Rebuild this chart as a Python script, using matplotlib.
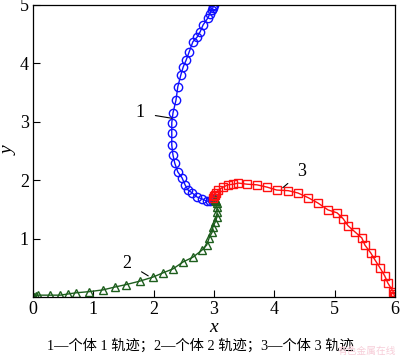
import numpy as np
import matplotlib
matplotlib.use("Agg")
import matplotlib.pyplot as plt

plt.rcParams['font.family'] = ['Liberation Serif', 'Noto Sans CJK SC']

# body 1 (blue circles)
x1 = [3.00, 2.99, 2.98, 2.96, 2.93, 2.90, 2.82, 2.77, 2.72, 2.65, 2.59, 2.54, 2.49, 2.45,
      2.40, 2.37, 2.32, 2.30, 2.30, 2.30, 2.32, 2.35, 2.40, 2.47, 2.52, 2.57, 2.64, 2.72,
      2.80, 2.88, 2.94, 2.97, 2.99, 3.00]
y1 = [5.00, 4.98, 4.95, 4.91, 4.85, 4.78, 4.66, 4.54, 4.45, 4.37, 4.20, 4.06, 3.94, 3.80,
      3.60, 3.37, 3.15, 2.98, 2.81, 2.60, 2.43, 2.29, 2.14, 2.04, 1.92, 1.83, 1.78, 1.71,
      1.68, 1.64, 1.64, 1.66, 1.68, 1.70]

# body 2 (green triangles)
x2 = [0.00, 0.02, 0.05, 0.08, 0.28, 0.45, 0.58, 0.71, 0.93, 1.16, 1.36, 1.54, 1.77, 1.99,
      2.15, 2.32, 2.49, 2.65, 2.80, 2.88, 2.92, 2.97, 2.98, 3.02, 3.05, 3.05, 3.05, 3.05,
      3.04, 3.02, 3.01]
y2 = [0.00, 0.00, 0.01, 0.03, 0.03, 0.03, 0.05, 0.07, 0.09, 0.12, 0.17, 0.21, 0.27, 0.34,
      0.41, 0.48, 0.60, 0.68, 0.80, 0.89, 1.01, 1.11, 1.20, 1.28, 1.37, 1.46, 1.54, 1.61,
      1.64, 1.66, 1.68]

# body 3 (red squares)
x3 = [6.00, 5.99, 5.98, 5.97, 5.88, 5.83, 5.75, 5.67, 5.60, 5.50, 5.45, 5.34, 5.22, 5.14,
      5.04, 4.89, 4.72, 4.56, 4.39, 4.23, 4.04, 3.88, 3.71, 3.55, 3.40, 3.32, 3.23, 3.15,
      3.07, 3.03, 3.01, 3.00, 2.99]
y3 = [0.00, 0.02, 0.05, 0.09, 0.24, 0.36, 0.50, 0.63, 0.75, 0.89, 1.01, 1.11, 1.22, 1.34,
      1.44, 1.49, 1.61, 1.70, 1.78, 1.82, 1.83, 1.88, 1.92, 1.93, 1.95, 1.93, 1.92, 1.88,
      1.83, 1.78, 1.75, 1.72, 1.70]

fig = plt.figure(figsize=(4.0, 3.56), dpi=100)
ax = fig.add_axes([0.0825, 0.166, 0.905, 0.820])

ax.plot(x1, y1, '-o', color='#1010ff', lw=1.0, ms=6, mfc='none', mew=1.0)
ax.plot(x2, y2, '-^', color='#1d5e1d', lw=1.0, ms=6, mfc='none', mew=1.0)
ax.plot(x3, y3, '-s', color='#ff1010', lw=1.0, ms=5.5, mfc='none', mew=1.0)

ax.annotate('1', xy=(2.30, 3.06), xytext=(1.77, 3.15), fontsize=13, ha='center', va='center',
            arrowprops=dict(arrowstyle='-', color='black', lw=0.8, shrinkA=6, shrinkB=0))
ax.annotate('2', xy=(1.91, 0.36), xytext=(1.56, 0.58), fontsize=13, ha='center', va='center',
            arrowprops=dict(arrowstyle='-', color='black', lw=0.8, shrinkA=6, shrinkB=0))
ax.annotate('3', xy=(4.14, 1.87), xytext=(4.45, 2.14), fontsize=13, ha='center', va='center',
            arrowprops=dict(arrowstyle='-', color='black', lw=0.8, shrinkA=6, shrinkB=0))

ax.set_xlim(0, 6)
ax.set_ylim(0, 5)
ax.set_xticks([0, 1, 2, 3, 4, 5, 6])
ax.set_yticks([0, 1, 2, 3, 4, 5])
ax.set_yticklabels(['', '1', '2', '3', '4', '5'])
ax.tick_params(direction='in', length=5, width=0.8, labelsize=13, pad=3)
for s in ax.spines.values():
    s.set_linewidth(0.9)

ax.set_xlabel('x', fontsize=14, style='italic', va='center')
ax.xaxis.set_label_coords(0.5, -0.105)
ax.set_ylabel('y', fontsize=14, style='italic', va='center')
ax.yaxis.set_label_coords(-0.065, 0.5)

fig.text(0.5, 0.028, '1—个体 1 轨迹；2—个体 2 轨迹；3—个体 3 轨迹', ha='center', va='center',
         fontsize=10.3, family=['Liberation Serif', 'Noto Sans CJK SC'])
fig.text(0.99, 0.014, '有色金属在线', ha='right', va='center', fontsize=7,
         color='#f7cdd8', family=['Noto Sans CJK SC'])

fig.savefig('out.png', dpi=100)
